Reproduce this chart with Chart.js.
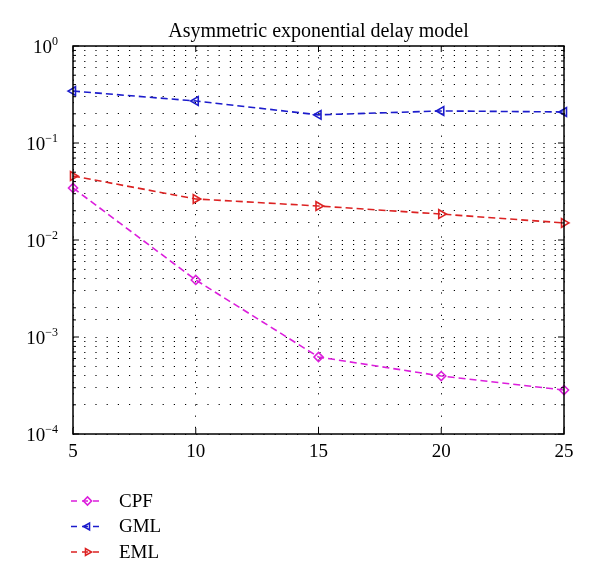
<!DOCTYPE html>
<html lang="en">
<head>
    <meta charset="UTF-8">
    <title>Asymmetric exponential delay model</title>
    <script src="https://cdn.jsdelivr.net/npm/chart.js"></script>
    <style>
        html, body { margin: 0; padding: 0; background: #fff; }
        #wrap { width: 600px; height: 580px; }
    </style>
</head>
<body>
    <div id="wrap"><canvas id="chartDelay" width="600" height="580"></canvas></div>

    <script>
        // datos
        const snr = [5, 10, 15, 20, 25];
        const cpf = [0.0344, 0.00387, 0.000622, 0.000396, 0.000284];
        const gml = [0.343, 0.271, 0.195, 0.214, 0.209];
        const eml = [0.0457, 0.0265, 0.0224, 0.0185, 0.0150];
        const xTicks = [5, 10, 15, 20, 25];
        const yDecades = [-4, -3, -2, -1, 0];

        const serif = "'Liberation Serif', 'DejaVu Serif', serif";

        function serie(label, values, color, style, rot) {
            return {
                label: label,
                data: snr.map((x, i) => ({ x: x, y: values[i] })),
                borderColor: color,
                backgroundColor: 'rgba(0,0,0,0)',
                borderWidth: 1.6,
                borderDash: [7, 4],
                pointStyle: style,
                rotation: rot,
                pointRadius: style === 'rectRot' ? 4.5 : 5,
                pointBorderWidth: 1.6,
                pointBorderColor: color,
                pointBackgroundColor: 'rgba(0,0,0,0)',
                clip: false,
                tension: 0
            };
        }

        // marco, marcas interiores y etiquetas 10^n
        const axesPlugin = {
            id: 'axesPlugin',
            afterDraw(chart) {
                const ctx = chart.ctx;
                const a = chart.chartArea;
                const ys = chart.scales.y;
                const xs = chart.scales.x;
                ctx.save();
                ctx.strokeStyle = '#000';
                ctx.lineWidth = 1.5;
                ctx.strokeRect(a.left, a.top, a.right - a.left, a.bottom - a.top);

                ctx.lineWidth = 1;
                ys.ticks.forEach(t => {
                    const p = ys.getPixelForValue(t.value);
                    const major = Math.abs(Math.log10(t.value) - Math.round(Math.log10(t.value))) < 1e-6;
                    const len = major ? 6 : 3;
                    ctx.beginPath();
                    ctx.moveTo(a.left, p); ctx.lineTo(a.left + len, p);
                    ctx.moveTo(a.right, p); ctx.lineTo(a.right - len, p);
                    ctx.stroke();
                });
                xs.ticks.forEach(t => {
                    const p = xs.getPixelForValue(t.value);
                    ctx.beginPath();
                    ctx.moveTo(p, a.bottom); ctx.lineTo(p, a.bottom - 6);
                    ctx.moveTo(p, a.top); ctx.lineTo(p, a.top + 6);
                    ctx.stroke();
                });

                ctx.fillStyle = '#000';
                ctx.textBaseline = 'alphabetic';
                yDecades.forEach(e => {
                    const p = ys.getPixelForValue(Math.pow(10, e));
                    const exp = e === 0 ? '0' : '\u2212' + Math.abs(e);
                    ctx.font = '12px ' + serif;
                    const we = ctx.measureText(exp).width;
                    ctx.textAlign = 'right';
                    ctx.fillText(exp, a.left - 15, p - 1);
                    ctx.font = '19px ' + serif;
                    ctx.fillText('10', a.left - 15 - we, p + 7);
                });
                ctx.restore();
            }
        };

        // leyenda debajo del grafico
        const legendPlugin = {
            id: 'legendPlugin',
            afterDraw(chart) {
                const ctx = chart.ctx;
                ctx.save();
                chart.data.datasets.forEach((ds, i) => {
                    const y = 501 + i * 25.5;
                    ctx.strokeStyle = ds.borderColor;
                    ctx.fillStyle = 'rgba(0,0,0,0)';
                    ctx.lineWidth = 1.6;
                    ctx.setLineDash([6, 5]);
                    ctx.beginPath();
                    ctx.moveTo(71, y); ctx.lineTo(104, y);
                    ctx.stroke();
                    ctx.setLineDash([]);
                    Chart.helpers.drawPoint(ctx, {
                        pointStyle: ds.pointStyle,
                        rotation: ds.rotation,
                        radius: 4,
                        borderWidth: 1.6
                    }, 87.5, y);
                    ctx.fillStyle = '#000';
                    ctx.font = '19px ' + serif;
                    ctx.textAlign = 'left';
                    ctx.textBaseline = 'middle';
                    ctx.fillText(ds.label, 119, y + 1);
                });
                ctx.restore();
            }
        };

        const ctx = document.getElementById('chartDelay').getContext('2d');
        new Chart(ctx, {
            type: 'line',
            data: {
                datasets: [
                    serie('CPF', cpf, '#dc1edc', 'rectRot', 0),
                    serie('GML', gml, '#1c1ccc', 'triangle', -90),
                    serie('EML', eml, '#dc2222', 'triangle', 90)
                ]
            },
            options: {
                responsive: false,
                animation: false,
                layout: { padding: { left: 0, right: 36, top: 0, bottom: 0 } },
                plugins: {
                    legend: { display: false },
                    tooltip: { enabled: false },
                    title: {
                        display: true,
                        fullSize: false,
                        text: 'Asymmetric exponential delay model',
                        color: '#000',
                        font: { family: serif, size: 20, weight: 'normal', lineHeight: 1.2 },
                        padding: { top: 20, bottom: 2 }
                    }
                },
                scales: {
                    x: {
                        type: 'linear',
                        min: 5,
                        max: 25,
                        afterFit: s => { s.height = 146; },
                        afterBuildTicks: s => { s.ticks = xTicks.map(v => ({ value: v })); },
                        ticks: {
                            color: '#000',
                            font: { family: serif, size: 19 },
                            padding: 7,
                            maxRotation: 0
                        },
                        grid: {
                            color: '#000',
                            lineWidth: 1,
                            drawTicks: false,
                            display: true
                        },
                        border: { display: false, dash: [1.2, 10] }
                    },
                    y: {
                        type: 'logarithmic',
                        min: 1e-4,
                        max: 1,
                        afterFit: s => { s.width = 73; },
                        ticks: {
                            autoSkip: false,
                            callback: () => ''
                        },
                        grid: {
                            color: '#000',
                            lineWidth: 1,
                            drawTicks: false
                        },
                        border: { display: false, dash: [1.2, 10] }
                    }
                }
            },
            plugins: [axesPlugin, legendPlugin]
        });
    </script>
</body>
</html>
